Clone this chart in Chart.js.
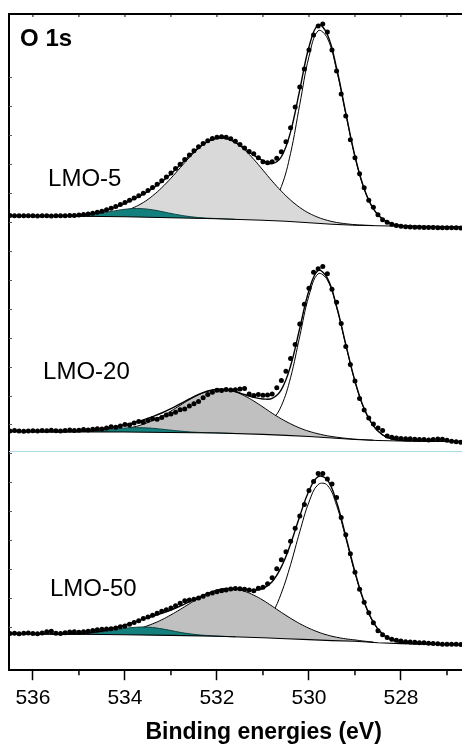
<!DOCTYPE html>
<html>
<head>
<meta charset="utf-8">
<script src="https://cdn.jsdelivr.net/npm/chart.js@4.4.1/dist/chart.umd.min.js"></script>
<style>
  html, body { margin: 0; padding: 0; background: #fff; overflow: hidden; }
  #wrap { width: 462px; height: 746px; overflow: hidden; }
  canvas { display: block; }
</style>
</head>
<body>
<div id="wrap"><canvas id="chart" width="530" height="746"></canvas></div>
<script>
// Binding energy grids (eV)
var dataEnergy = [
  536.5, 536.4, 536.3, 536.2, 536.1, 536.0, 535.9, 535.8, 535.7, 535.6,
  535.5, 535.4, 535.3, 535.2, 535.1, 535.0, 534.9, 534.8, 534.7, 534.6,
  534.5, 534.4, 534.3, 534.2, 534.1, 534.0, 533.9, 533.8, 533.7, 533.6,
  533.5, 533.4, 533.3, 533.2, 533.1, 533.0, 532.9, 532.8, 532.7, 532.6,
  532.5, 532.4, 532.3, 532.2, 532.1, 532.0, 531.9, 531.8, 531.7, 531.6,
  531.5, 531.4, 531.3, 531.2, 531.1, 531.0, 530.9, 530.8, 530.7, 530.6,
  530.5, 530.4, 530.3, 530.2, 530.1, 530.0, 529.9, 529.8, 529.7, 529.6,
  529.5, 529.4, 529.3, 529.2, 529.1, 529.0, 528.9, 528.8, 528.7, 528.6,
  528.5, 528.4, 528.3, 528.2, 528.1, 528.0, 527.9, 527.8, 527.7, 527.6,
  527.5, 527.4, 527.3, 527.2, 527.1, 527.0, 526.9, 526.8, 526.7
];
var fitEnergy = [
  536.6, 536.4, 536.2, 536.0, 535.8, 535.6, 535.4, 535.2, 535.0, 534.8,
  534.6, 534.4, 534.2, 534.0, 533.8, 533.6, 533.4, 533.2, 533.0, 532.8,
  532.6, 532.4, 532.2, 532.0, 531.8, 531.6, 531.4, 531.2, 531.0, 530.8,
  530.6, 530.4, 530.2, 530.0, 529.8, 529.6, 529.4, 529.2, 529.0, 528.8,
  528.6, 528.4, 528.2, 528.0, 527.8, 527.6, 527.4, 527.2, 527.0, 526.8, 526.6
];
var tealEnergy = fitEnergy.slice(5, 26);   // 535.6 .. 531.6
var greyEnergy = fitEnergy.slice(5, 41);   // 535.6 .. 528.6
var mainEnergy = fitEnergy.slice(25, 45);  // 531.6 .. 527.8
var baseEnergy = [536.6, 535, 534, 533, 532, 531, 530.5, 530, 529.5, 529, 528.5, 528, 526.6];

var tickValues = [536, 534, 532, 530, 528, 526];
var minorTickValues = [535, 533, 531, 529, 527];
var leftTickLevels = [594, 565, 536, 507, 478, 449, 420, 391, 362, 333, 304, 275, 246, 217, 188, 159, 130, 101, 72, 43];

// LMO-5 (top, intensity with stacking offset)
var dots5 = [
  455.2, 455.0, 455.1, 454.9, 455.0, 455.1, 454.8, 454.9, 455.0, 454.7,
  454.9, 455.0, 455.1, 455.3, 455.3, 455.7, 456.2, 456.8, 457.6, 458.5,
  459.6, 461.0, 462.6, 464.3, 466.2, 468.3, 470.5, 472.7, 475.0, 477.5,
  480.3, 483.4, 486.6, 490.1, 493.9, 497.8, 502.2, 506.6, 511.2, 515.8,
  520.0, 524.0, 527.4, 530.1, 532.3, 533.5, 534.0, 533.6, 532.0, 529.5,
  526.4, 522.8, 519.3, 517.0, 513.0, 509.0, 508.0, 509.0, 512.5, 519.0,
  529.0, 543.0, 564.0, 584.0, 602.0, 621.0, 636.0, 645.0, 647.0, 639.0,
  621.0, 600.0, 577.0, 555.0, 531.0, 513.0, 497.0, 483.0, 470.5, 463.5,
  456.0, 451.0, 448.5, 446.5, 445.3, 444.6, 444.0, 443.8, 443.5, 443.6,
  443.3, 443.2, 443.3, 443.1, 443.0, 443.1, 442.9, 443.0, 442.8
];
var env5 = [
  455.0, 455.0, 455.0, 455.0, 454.6, 454.6, 454.7, 455.0, 455.6, 456.6,
  458.2, 460.5, 463.7, 467.5, 471.8, 476.6, 482.4, 489.1, 496.9, 505.8,
  514.9, 523.1, 529.4, 532.7, 532.6, 528.6, 522.5, 515.7, 510.2, 507.2,
  514.1, 539.0, 581.1, 623.9, 646.2, 636.4, 602.9, 558.0, 514.6, 482.1,
  461.9, 451.6, 447.0, 445.2, 444.6, 444.4, 444.3, 444.2, 444.1, 444.0, 444.0
];
var main5 = [451.8, 452.6, 455.0, 460.0, 467.6, 484.2, 517.5, 566.4, 614.3, 640.2,
  632.8, 600.9, 556.9, 514.0, 481.8, 461.9, 451.6, 447.0, 445.2, 444.7];
var grey5 = [
  454.7, 454.7, 454.7, 454.8, 455.0, 455.4, 456.2, 457.7, 460.0, 463.4,
  468.3, 474.9, 483.1, 492.6, 503.0, 513.3, 522.3, 529.0, 532.5, 532.2,
  528.2, 521.0, 511.5, 500.7, 489.7, 479.6, 470.7, 463.3, 457.6, 453.4,
  450.4, 448.3, 447.0, 446.1, 445.6, 445.2
];
var teal5 = [454.8, 454.8, 454.9, 455.3, 456.0, 457.1, 458.5, 460.1, 461.5, 462.2,
  462.0, 460.9, 459.2, 457.3, 455.6, 454.2, 453.2, 452.6, 452.2, 451.8, 451.4];
var base5 = [455, 454.5, 454, 453, 452, 450.5, 449.5, 448, 446.5, 445.5, 445, 444.5, 444];

// LMO-20 (middle)
var dots20 = [
  239.5, 240.0, 239.6, 239.3, 239.4, 239.8, 239.5, 239.9, 239.7, 240.2,
  239.8, 239.6, 240.1, 240.5, 240.0, 240.3, 240.9, 240.6, 241.3, 241.8,
  241.5, 242.6, 243.8, 243.2, 244.6, 246.0, 245.6, 247.5, 248.9, 248.3,
  250.2, 251.8, 251.2, 253.0, 255.5, 256.4, 258.2, 260.8, 261.5, 264.5,
  266.8, 269.0, 272.7, 276.0, 278.4, 280.3, 280.0, 281.0, 280.6, 280.8,
  281.6, 282.0, 276.5, 275.0, 276.0, 275.3, 275.6, 276.5, 282.7, 290.0,
  299.3, 312.0, 326.0, 346.5, 366.5, 382.5, 398.5, 402.0, 404.3, 397.0,
  381.5, 368.5, 347.0, 324.0, 306.0, 289.5, 272.0, 260.5, 252.5, 246.5,
  242.5, 240.0, 234.5, 233.3, 232.6, 232.0, 231.8, 231.7, 231.3, 231.0,
  231.0, 230.6, 230.9, 231.4, 231.2, 230.2, 229.3, 228.7, 228.3
];
var env20 = [
  239.0, 239.0, 238.9, 238.9, 238.8, 238.8, 238.9, 239.0, 239.3, 239.8,
  240.7, 242.0, 243.6, 245.8, 248.0, 250.7, 253.9, 257.5, 261.8, 266.7,
  271.6, 276.1, 279.5, 281.3, 281.1, 279.0, 276.0, 273.1, 271.6, 272.1,
  280.9, 304.6, 342.4, 380.2, 400.2, 392.5, 364.4, 326.3, 289.4, 261.7,
  244.6, 235.6, 231.6, 230.1, 229.6, 229.4, 229.3, 229.2, 229.1, 229.0, 229.0
];
var main20 = [237.3, 238.0, 240.1, 244.3, 250.6, 264.7, 292.9, 334.4, 375.0, 396.9,
  390.6, 363.3, 325.7, 289.1, 261.5, 244.5, 235.6, 231.6, 230.1, 229.6];
var grey20 = [
  238.8, 238.8, 238.8, 238.9, 239.0, 239.2, 239.7, 240.4, 241.8, 243.6,
  246.3, 249.9, 254.3, 259.5, 265.2, 270.8, 275.7, 279.3, 281.2, 280.9,
  278.7, 274.7, 269.5, 263.5, 257.3, 251.6, 246.7, 242.5, 239.2, 236.7,
  234.7, 233.3, 232.2, 231.3, 230.8, 230.3
];
var teal20 = [238.8, 238.9, 238.9, 239.1, 239.5, 240.1, 240.9, 241.7, 242.5, 242.8,
  242.7, 242.2, 241.3, 240.3, 239.4, 238.6, 238.1, 237.8, 237.6, 237.3, 237.0];
var base20 = [239, 238.7, 238.5, 238, 237.5, 236.2, 235.2, 234, 232.5, 231, 230, 229.5, 229];

// LMO-50 (bottom)
var dots50 = [
  36.8, 37.0, 36.6, 36.9, 37.2, 36.7, 36.5, 37.3, 38.5, 39.0,
  37.0, 36.8, 37.4, 38.2, 38.6, 38.0, 38.4, 38.9, 39.8, 40.6,
  41.0, 41.3, 41.6, 42.2, 43.4, 44.3, 46.0, 47.7, 49.6, 51.7,
  53.2, 55.0, 57.0, 59.0, 60.5, 62.4, 64.6, 67.0, 69.5, 70.2,
  71.0, 72.3, 74.0, 76.0, 77.4, 78.6, 79.5, 80.3, 81.4, 81.8,
  81.5, 81.0, 80.2, 79.5, 82.0, 83.0, 86.5, 92.5, 101.5, 110.5,
  118.5, 129.0, 142.0, 154.5, 166.0, 180.0, 189.0, 197.0, 197.0, 191.5,
  186.5, 173.0, 153.0, 135.5, 116.5, 98.0, 81.0, 68.0, 57.5, 47.5,
  39.5, 35.5, 32.7, 31.0, 30.0, 29.2, 28.6, 28.2, 27.9, 27.6,
  27.4, 27.0, 26.8, 26.5, 26.1, 25.9, 26.0, 26.0, 25.8
];
var env50 = [
  36.5, 36.4, 36.4, 36.3, 36.3, 36.2, 36.3, 36.4, 36.7, 37.4,
  38.5, 40.2, 42.6, 45.3, 48.2, 51.1, 54.0, 57.0, 60.3, 64.1,
  68.5, 73.0, 77.0, 80.1, 81.8, 81.8, 80.9, 80.0, 81.8, 88.6,
  103.4, 126.3, 154.2, 179.6, 193.8, 190.5, 168.4, 134.3, 98.5, 68.5,
  48.0, 36.2, 30.4, 27.8, 26.8, 26.4, 26.2, 26.0, 25.8, 25.7, 25.5
];
var main50 = [34.0, 35.0, 37.7, 44.2, 56.6, 77.2, 105.6, 138.6, 168.3, 185.9,
  185.2, 165.0, 132.2, 97.2, 67.8, 47.6, 36.0, 30.3, 27.8, 26.8];
var grey50 = [
  36.2, 36.2, 36.2, 36.2, 36.3, 36.5, 37.0, 37.7, 38.9, 40.6,
  43.1, 46.4, 50.5, 55.4, 60.8, 66.5, 71.9, 76.5, 79.9, 81.5,
  81.2, 79.0, 75.1, 70.1, 64.1, 57.9, 52.0, 46.6, 42.0, 38.2,
  35.2, 33.0, 31.4, 30.3, 29.1, 28.2
];
var teal50 = [36.2, 36.2, 36.3, 36.5, 37.0, 37.8, 39.0, 40.5, 41.9, 42.9,
  43.2, 42.7, 41.4, 39.7, 37.9, 36.5, 35.4, 34.7, 34.2, 33.8, 33.4];
var base50 = [36.5, 36, 35.5, 34.8, 34, 32.5, 31.5, 30.7, 29.7, 29, 27.5, 26.7, 25.5];

var separatorLevel = 219;
var xMin = 525.45, xMax = 536.52;

var spectra = [
  { name: 'LMO-5',  dots: dots5,  env: env5,  main: main5,  grey: grey5,  teal: teal5,  base: base5,  greyColor: '#d9d9d9', at: [535.67, 485] },
  { name: 'LMO-20', dots: dots20, env: env20, main: main20, grey: grey20, teal: teal20, base: base20, greyColor: '#c0c0c0', at: [535.78, 292] },
  { name: 'LMO-50', dots: dots50, env: env50, main: main50, grey: grey50, teal: teal50, base: base50, greyColor: '#c0c0c0', at: [535.63, 74] }
];

var FONT = '"Liberation Sans", Arial, Helvetica, sans-serif';
Chart.defaults.font.family = FONT;
Chart.defaults.color = '#000';

function pts(xs, ys) {
  return xs.map(function (x, i) { return { x: x, y: ys[i] }; });
}

var datasets = [];
spectra.forEach(function (s) {
  var baseIndex = datasets.length;
  datasets.push({ label: s.name + ' background', data: pts(baseEnergy, s.base), borderColor: '#000', borderWidth: 1.2,
    pointRadius: 0, tension: 0, fill: false, order: 2 });
  datasets.push({ label: s.name + ' lattice O', data: pts(mainEnergy, s.main), borderColor: '#000', borderWidth: 1,
    backgroundColor: '#fff', fill: baseIndex, pointRadius: 0, tension: 0.4, order: 5 });
  datasets.push({ label: s.name + ' surface O', data: pts(greyEnergy, s.grey), borderColor: '#000', borderWidth: 1,
    backgroundColor: s.greyColor, fill: baseIndex, pointRadius: 0, tension: 0.4, order: 4 });
  datasets.push({ label: s.name + ' adsorbed O', data: pts(tealEnergy, s.teal), borderColor: '#0d3f3f', borderWidth: 1,
    backgroundColor: '#14807d', fill: baseIndex, pointRadius: 0, tension: 0.4, order: 3 });
  datasets.push({ label: s.name + ' envelope', data: pts(fitEnergy, s.env), borderColor: '#000', borderWidth: 1.4,
    pointRadius: 0, tension: 0.4, fill: false, order: 1 });
  datasets.push({ label: s.name, data: pts(dataEnergy, s.dots), showLine: false, pointRadius: 2.5,
    pointBackgroundColor: '#000', pointBorderWidth: 0, borderColor: '#000', order: 0 });
});
datasets.push({ label: 'separator', data: pts([xMin, xMax], [separatorLevel, separatorLevel]), borderColor: '#a9dbe3',
  borderWidth: 1, pointRadius: 0, fill: false, order: 6 });

var decorPlugin = {
  id: 'decor',
  afterDraw: function (chart) {
    var ctx = chart.ctx, a = chart.chartArea, x = chart.scales.x, y = chart.scales.y;
    ctx.save();
    ctx.strokeStyle = '#000';
    ctx.lineWidth = 2;
    ctx.beginPath();
    ctx.moveTo(a.left - 1, a.top);
    ctx.lineTo(a.right, a.top);
    ctx.stroke();

    ctx.lineWidth = 1.5;
    minorTickValues.forEach(function (v) {
      var px = x.getPixelForValue(v);
      ctx.beginPath(); ctx.moveTo(px, a.bottom); ctx.lineTo(px, a.bottom + 5); ctx.stroke();
    });
    ctx.lineWidth = 1;
    tickValues.concat(minorTickValues).forEach(function (v) {
      var px = x.getPixelForValue(v);
      ctx.beginPath(); ctx.moveTo(px, a.top); ctx.lineTo(px, a.top + 3); ctx.stroke();
    });
    ctx.strokeStyle = '#555';
    leftTickLevels.forEach(function (v) {
      var py = Math.round(y.getPixelForValue(v)) + 0.5;
      ctx.beginPath(); ctx.moveTo(a.left, py); ctx.lineTo(a.left + 3, py); ctx.stroke();
    });

    ctx.fillStyle = '#000';
    ctx.textAlign = 'left';
    ctx.textBaseline = 'alphabetic';
    ctx.font = 'bold 24px ' + FONT;
    ctx.fillText('O 1s', x.getPixelForValue(536.28), y.getPixelForValue(625));
    ctx.font = '24px ' + FONT;
    spectra.forEach(function (s) {
      ctx.fillText(s.name, x.getPixelForValue(s.at[0]), y.getPixelForValue(s.at[1]));
    });
    ctx.restore();
  }
};

new Chart(document.getElementById('chart').getContext('2d'), {
  type: 'line',
  data: { datasets: datasets },
  options: {
    responsive: false,
    animation: false,
    devicePixelRatio: 1,
    events: [],
    layout: { padding: { left: 9, top: 14, right: 11.7, bottom: 0 } },
    plugins: { legend: { display: false }, tooltip: { enabled: false } },
    scales: {
      x: {
        type: 'linear', reverse: true, min: xMin, max: xMax,
        afterBuildTicks: function (scale) {
          scale.ticks = tickValues.map(function (v) { return { value: v }; });
        },
        grid: { display: true, drawOnChartArea: false, drawTicks: true, tickLength: 10, tickWidth: 1.5, tickColor: '#000' },
        border: { display: true, color: '#000', width: 2 },
        ticks: { font: { size: 21 }, color: '#000', padding: 5, maxRotation: 0, autoSkip: false },
        title: { display: true, text: 'Binding energies (eV)', color: '#000',
          font: { size: 23, weight: 'bold' }, padding: { top: 3, bottom: 0 } }
      },
      y: {
        type: 'linear', min: 0, max: 657,
        grid: { display: false, drawTicks: false },
        ticks: { display: false },
        border: { display: true, color: '#000', width: 2 }
      }
    }
  },
  plugins: [decorPlugin]
});
</script>
</body>
</html>
